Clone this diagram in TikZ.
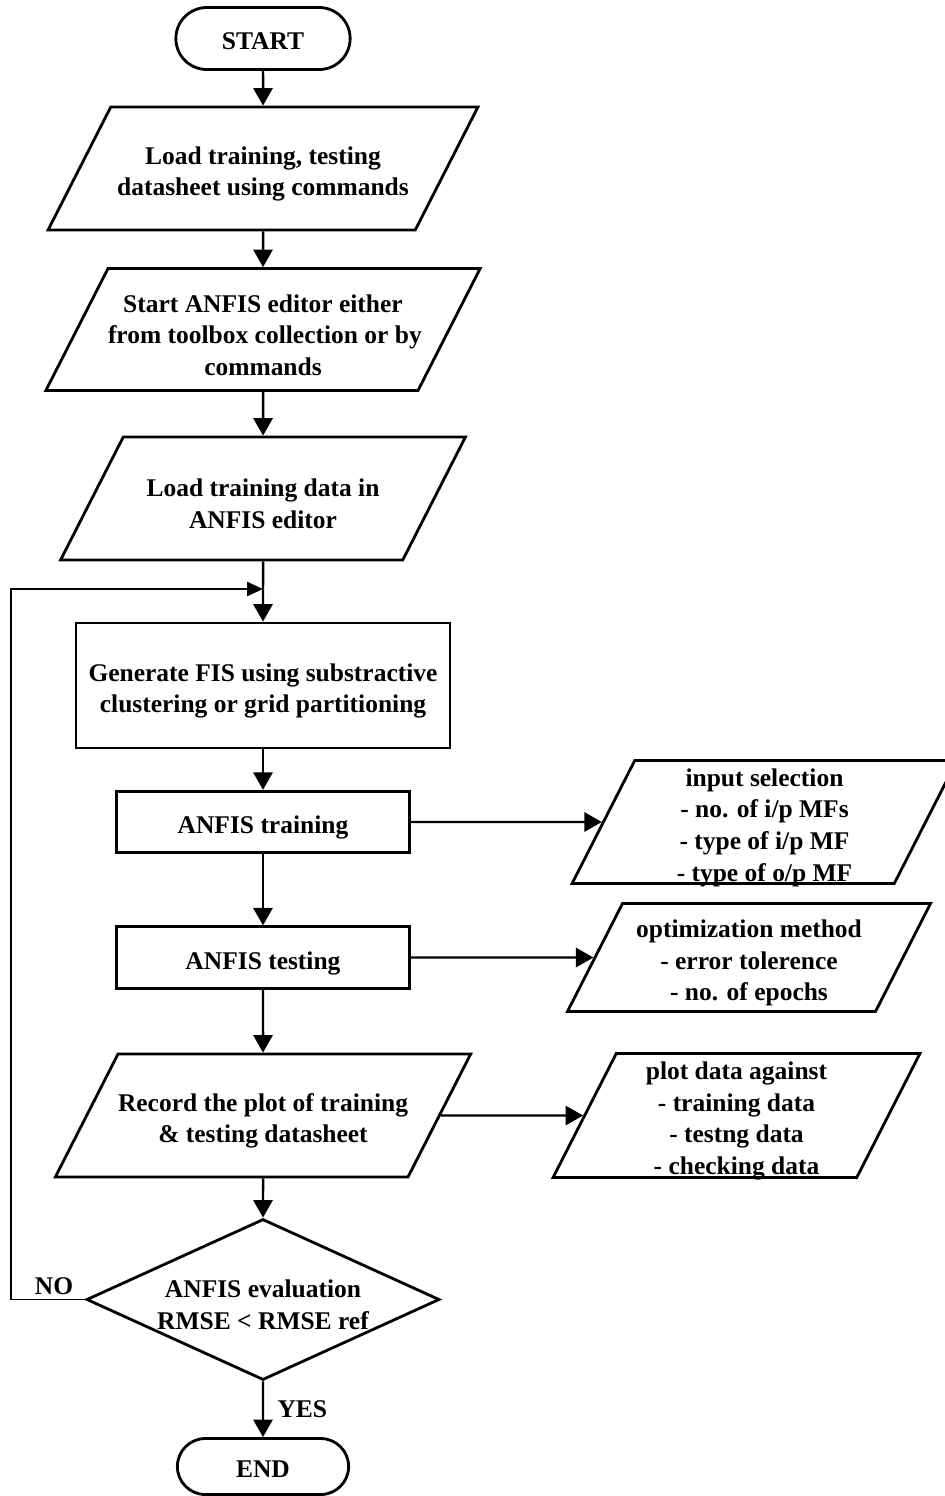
\documentclass[tikz,border=0pt]{standalone}
\usepackage{fontspec}
\setmainfont{Liberation Serif}
\usetikzlibrary{shapes.geometric,shapes.misc,arrows.meta}

\begin{document}
\begin{tikzpicture}[
        font=\fontsize{14.5}{18}\selectfont\bfseries,
        line width=1.6pt,
        inbox/.style 2 args={draw, inner sep=0pt,
            execute at begin node={\begin{minipage}[c][#2][c]{#1}\centering\vspace*{0.22cm}},
            execute at end node={\end{minipage}}},
        terminal/.style={rounded rectangle, draw, text height=12.2pt, text depth=0pt,
            minimum width=3.72cm, minimum height=1.24cm},
        iobox/.style 2 args={trapezium, trapezium left angle=63, trapezium right angle=117,
            trapezium stretches body, inbox={#1}{#2}},
        process/.style 2 args={rectangle, inbox={#1}{#2}},
        decision/.style={diamond, aspect=2.19, inbox={4.3cm}{1.2cm},
            minimum width=7.06cm, minimum height=3.22cm},
        arrow/.style={-{Triangle[width=11pt,length=10pt]}, line width=1.4pt},
        backarrow/.style={-{Triangle[width=8pt,length=9pt]}, line width=1.1pt}
    ]
        \useasboundingbox (0,0) rectangle (18.9,-29.92);

        % Main column
        \node[terminal] (start) at (5.26,-0.77) {START};
        \node[iobox={6.09cm}{2.46cm}] (loadsheet) at (5.26,-3.37)
            {Load training, testing\\datasheet using commands};
        \node[iobox={6.2cm}{2.44cm}] (editor) at (5.26,-6.59)
            {Start ANFIS editor either\\\mbox{from toolbox collection or by}\\commands};
        \node[iobox={5.59cm}{2.46cm}] (loaddata) at (5.26,-9.97)
            {Load training data in\\ANFIS editor};
        \node[process={7.48cm}{2.5cm}] (genfis) at (5.26,-13.71)
            {Generate FIS using substractive\\clustering or grid partitioning};
        \node[process={5.86cm}{1.23cm}] (train) at (5.26,-16.44) {ANFIS training};
        \node[process={5.86cm}{1.23cm}] (test) at (5.26,-19.15) {ANFIS testing};
        \node[iobox={5.8cm}{2.46cm}] (record) at (5.26,-22.31)
            {Record the plot of training\\\& testing datasheet};
        \node[decision] (eval) at (5.26,-25.99) {ANFIS evaluation\\RMSE < RMSE ref};
        \node[terminal, minimum width=3.66cm, minimum height=1.12cm] (end) at (5.26,-29.33) {END};

        % Side boxes
        \node[iobox={5.19cm}{2.46cm}] (inputsel) at (15.29,-16.44)
            {input selection\\- no. of i/p MFs\\- type of i/p MF\\- type of o/p MF};
        \node[iobox={5.06cm}{2.16cm}] (optim) at (14.98,-19.15)
            {optimization method\\- error tolerence\\- no. of epochs};
        \node[iobox={4.81cm}{2.48cm}] (plotdata) at (14.73,-22.31)
            {plot data against\\- training data\\- testng data\\- checking data};

        % Arrows
        \draw[arrow] (start) -- (loadsheet);
        \draw[arrow] (loadsheet) -- (editor);
        \draw[arrow] (editor) -- (loaddata);
        \draw[arrow] (loaddata) -- (genfis);
        \draw[arrow] (genfis) -- (train);
        \draw[arrow] (train) -- (test);
        \draw[arrow] (test) -- (record);
        \draw[arrow] (record) -- (eval);
        \draw[arrow] (eval) -- node[right=1.5mm] {YES} (end);

        \draw[arrow] (train) -- (inputsel);
        \draw[arrow] (test) -- (optim);
        \draw[arrow] (record) -- (plotdata);

        % Loop back
        \coordinate (join) at (5.26,-11.78);
        \coordinate (edge) at (0.22,-11.78);
        \draw[backarrow] (eval.west) -- (eval.west -| edge) -- (edge) -- (join);

        % Labels
        \node (no) at (1.08,-25.72) {NO};
    \end{tikzpicture}
\end{document}
